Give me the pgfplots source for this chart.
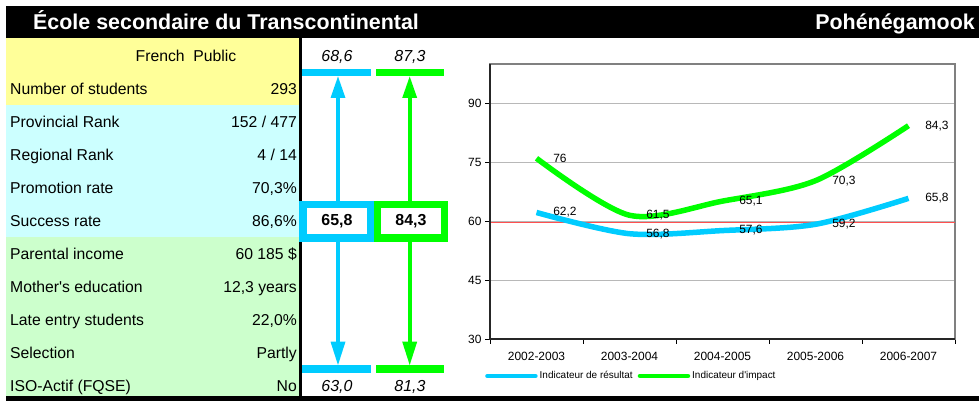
\documentclass[border=0pt]{standalone}
\usepackage{pgfplots}
\pgfplotsset{compat=1.18}
\usepackage{fontspec}
\setmainfont{Liberation Sans}
\definecolor{cyanC}{RGB}{0,204,255}
\definecolor{greenC}{RGB}{0,255,0}
\definecolor{yellowBg}{RGB}{255,255,153}
\definecolor{cyanBg}{RGB}{204,255,255}
\definecolor{greenBg}{RGB}{204,255,204}
\definecolor{redL}{RGB}{255,80,80}
\newcommand{\fs}[1]{\fontsize{#1}{#1}\selectfont}
\begin{document}
\begin{tikzpicture}
\path[use as bounding box, fill=white] (0,0) rectangle (979bp,401bp);
\begin{scope}[x=1bp,y=-1bp,shift={(0bp,401bp)}]
% title bar
\fill[black] (6,6) rectangle (979,38);
\node[anchor=base west, text=white, font=\fs{21.5}\bfseries, inner sep=0] at (33,29.5) {École secondaire du Transcontinental};
\node[anchor=base east, text=white, font=\fs{21.5}\bfseries, inner sep=0] at (975,29.5) {Pohénégamook};
% table backgrounds
\fill[yellowBg] (6,38) rectangle (299,105);
\fill[cyanBg] (6,105) rectangle (299,237);
\fill[greenBg] (6,237) rectangle (299,397);
\fill[black] (299,38) rectangle (302,397);
\fill[black] (6,396) rectangle (979,401);
% table text
\tikzset{lab/.style={anchor=base west, inner sep=0, font=\fs{15.8}}, val/.style={anchor=base east, inner sep=0, font=\fs{15.8}}}
\node[anchor=base, inner sep=0, font=\fs{15.8}] at (186,61.5) {French\ \ Public};
\node[lab] at (10,94.5) {Number of students};      \node[val] at (297,94.5) {293};
\node[lab] at (10,127.5) {Provincial Rank};        \node[val] at (297,127.5) {152 / 477};
\node[lab] at (10,160.5) {Regional Rank};          \node[val] at (297,160.5) {4 / 14};
\node[lab] at (10,193.5) {Promotion rate};         \node[val] at (297,193.5) {70,3\%};
\node[lab] at (10,226.5) {Success rate};           \node[val] at (297,226.5) {86,6\%};
\node[lab] at (10,259.5) {Parental income};        \node[val] at (297,259.5) {60 185 \$};
\node[lab] at (10,292.5) {Mother\textquotesingle s education};     \node[val] at (297,292.5) {12,3 years};
\node[lab] at (10,325.5) {Late entry students};    \node[val] at (297,325.5) {22,0\%};
\node[lab] at (10,358.5) {Selection};              \node[val] at (297,358.5) {Partly};
\node[lab] at (10,391.5) {ISO-Actif (FQSE)};       \node[val] at (297,391.5) {No};
% indicator panel
\fill[cyanC] (302,69) rectangle (371,76.5);
\fill[greenC] (376,69) rectangle (444,76.5);
\fill[cyanC] (336.2,96) rectangle (339.8,202);
\fill[greenC] (407.9,96) rectangle (411.5,202);
\fill[cyanC] (338,76.5) -- (330.5,98) -- (345.5,98) -- cycle;
\fill[greenC] (409.7,76.5) -- (402.2,98) -- (417.2,98) -- cycle;
\fill[cyanC] (336.2,241) rectangle (339.8,343);
\fill[greenC] (407.9,241) rectangle (411.5,343);
\fill[cyanC] (338,365) -- (330.5,341.7) -- (345.5,341.7) -- cycle;
\fill[greenC] (409.7,365) -- (402.2,341.7) -- (417.2,341.7) -- cycle;
\fill[cyanC] (302,365) rectangle (371,372.7);
\fill[greenC] (376,365) rectangle (444,372.7);
\fill[cyanC] (299,201) rectangle (374,242);
\fill[white] (307,208.3) rectangle (367,234.3);
\fill[greenC] (374,201) rectangle (448,242);
\fill[white] (381,208.3) rectangle (441,234.3);
\node[font=\fs{16}\itshape, inner sep=0] at (337,56.7) {68,6};
\node[font=\fs{16}\itshape, inner sep=0] at (410,56.7) {87,3};
\node[font=\fs{16}\bfseries, inner sep=0] at (337,221.5) {65,8};
\node[font=\fs{16}\bfseries, inner sep=0] at (411,221.5) {84,3};
\node[font=\fs{16}\itshape, inner sep=0] at (337,386.7) {63,0};
\node[font=\fs{16}\itshape, inner sep=0] at (410,386.7) {81,3};
\end{scope}
\begin{axis}[
  at={(490bp,62bp)}, anchor=south west, scale only axis,
  width=465bp, height=275bp,
  xmin=-0.5, xmax=4.5, ymin=30, ymax=100,
  ytick={30,45,60,75,90},
  ymajorgrids, grid style={draw=black!28, line width=0.8bp},
  xtick={-0.5,0.5,1.5,2.5,3.5,4.5}, xticklabels={},
  extra x ticks={0,1,2,3,4},
  extra x tick labels={2002-2003,2003-2004,2004-2005,2005-2006,2006-2007},
  extra x tick style={major tick length=0pt},
  tick align=outside, ytick pos=left, xtick pos=bottom,
  major tick length=5bp,
  tick style={black, line width=0.8bp},
  axis line style={draw=black!50, line width=1.3bp},
  /pgf/number format/assume math mode=true,
  ticklabel style={font=\fs{12}},
  xticklabel style={yshift=-10bp},
  legend columns=2,
  legend style={at={(axis description cs:0,0)}, anchor=west, xshift=-5bp, yshift=-37bp,
    draw=none, fill=none, font=\fs{10}, inner sep=0pt,
    /tikz/every even column/.append style={column sep=3bp}},
  legend image code/.code={\draw[#1, line width=4.5bp, line cap=round] (0bp,0bp) -- (48bp,0bp);},
  every node near coord/.style={anchor=west, xshift=13bp, inner sep=1bp, font=\fs{12}, text=black},
  after end axis/.code={\draw[black!85, line width=1.5bp] (rel axis cs:0,1) -- (rel axis cs:0,0) -- (rel axis cs:1,0);},
]
\addplot[redL, line width=1bp, forget plot] coordinates {(-0.5,59.6) (4.5,59.6)};
\addplot[cyanC, line width=5.5bp, smooth, nodes near coords, point meta=explicit symbolic]
  coordinates {(0,62.2) [62,2] (1,56.8) [56,8] (2,57.6) [57,6] (3,59.2) [59,2] (4,65.8) [65,8]};
\addlegendentry{Indicateur de résultat}
\addplot[greenC, line width=5.5bp, smooth, nodes near coords, point meta=explicit symbolic]
  coordinates {(0,76) [76] (1,61.5) [61,5] (2,65.1) [65,1] (3,70.3) [70,3] (4,84.3) [84,3]};
\addlegendentry{Indicateur d\textquotesingle impact}
\end{axis}
\end{tikzpicture}
\end{document}
